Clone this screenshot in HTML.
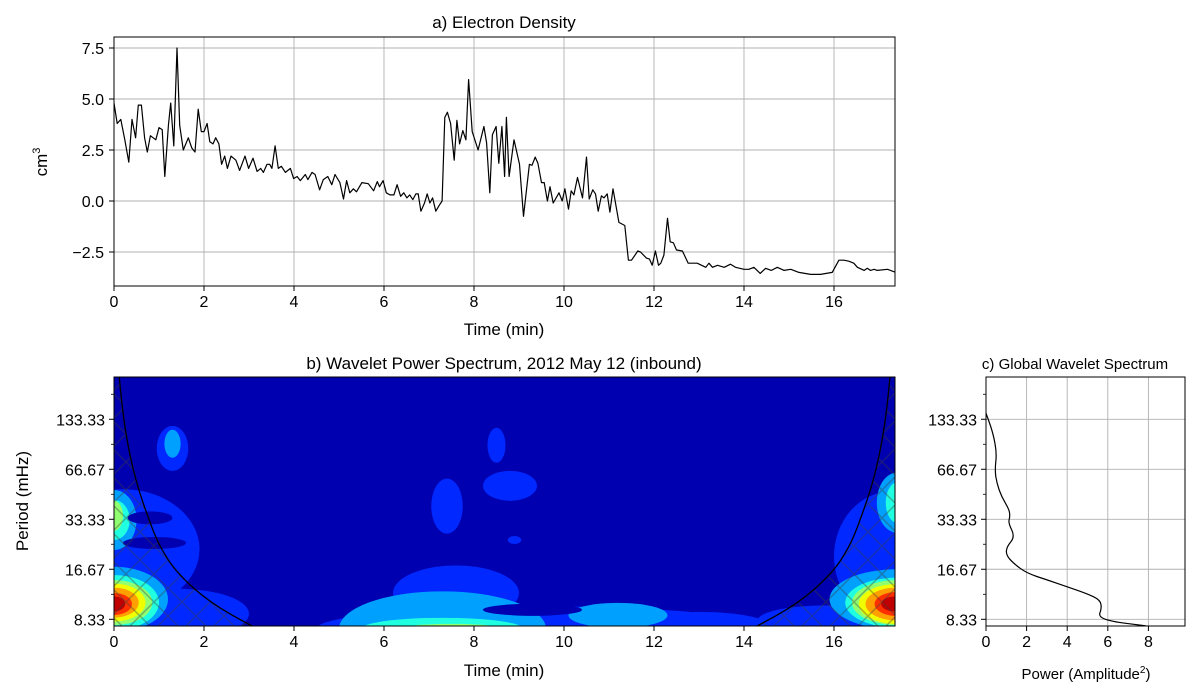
<!DOCTYPE html>
<html><head><meta charset="utf-8"><style>
html,body{margin:0;padding:0;background:#fff;}
svg{display:block;font-family:"Liberation Sans","DejaVu Sans",sans-serif;}
</style></head><body>
<svg id="fig" width="1200" height="700" viewBox="0 0 1200 700" xmlns="http://www.w3.org/2000/svg">
<defs>
<clipPath id="clipA"><rect x="114" y="37" width="781" height="249"/></clipPath>
<clipPath id="clipB"><rect x="114" y="377" width="781" height="249"/></clipPath>
<clipPath id="clipC"><rect x="986" y="377" width="199" height="249"/></clipPath>
<pattern id="hatch" width="28" height="28" patternUnits="userSpaceOnUse">
<path d="M0,0 L28,28 M28,0 L0,28" stroke="rgba(60,60,60,0.4)" stroke-width="1.5" fill="none"/>
</pattern>
</defs>
<g id="panelA"></g>
<g id="panelB"></g>
<g id="panelC"></g>
</svg>
<script>
// ---------- Panel a data ----------
const densT = [0,.07,.15,.24,.33,.40,.48,.54,.61,.68,.74,.81,.93,1.0,1.07,1.13,1.21,1.26,1.33,1.40,1.46,1.54,1.65,1.73,1.80,1.87,1.94,2.0,2.07,2.13,2.20,2.26,2.33,2.39,2.46,2.52,2.60,2.71,2.79,2.91,2.99,3.09,3.18,3.26,3.32,3.40,3.46,3.51,3.58,3.65,3.72,3.81,3.92,3.99,4.07,4.14,4.25,4.31,4.40,4.47,4.57,4.65,4.75,4.84,4.91,5.02,5.10,5.17,5.24,5.32,5.39,5.51,5.65,5.77,5.85,5.90,5.98,6.05,6.13,6.22,6.29,6.37,6.44,6.51,6.57,6.64,6.71,6.76,6.82,6.90,6.96,7.02,7.08,7.15,7.23,7.29,7.35,7.41,7.48,7.56,7.62,7.68,7.75,7.82,7.88,7.96,8.09,8.22,8.28,8.35,8.41,8.49,8.55,8.62,8.68,8.72,8.78,8.89,9.01,9.10,9.23,9.29,9.36,9.42,9.50,9.56,9.63,9.69,9.76,9.89,9.96,10.02,10.10,10.16,10.22,10.30,10.41,10.50,10.56,10.64,10.70,10.76,10.83,10.89,10.96,11.02,11.09,11.22,11.35,11.43,11.50,11.64,11.70,11.83,11.90,11.96,12.03,12.10,12.15,12.22,12.30,12.36,12.43,12.50,12.63,12.76,12.96,13.15,13.22,13.30,13.41,13.56,13.70,13.81,14.0,14.11,14.22,14.36,14.48,14.61,14.74,14.89,15.04,15.22,15.48,15.70,15.96,16.11,16.22,16.33,16.44,16.52,16.67,16.74,16.81,16.89,16.96,17.19,17.37];
const densV = [4.8,3.8,4.0,3.0,1.9,4.0,3.1,4.7,4.7,3.1,2.4,3.2,3.0,3.6,3.5,1.2,3.7,4.8,2.7,7.5,3.7,2.5,3.1,2.6,2.4,4.5,3.4,3.4,3.8,2.9,2.8,3.1,2.8,1.8,2.2,1.6,2.2,2.0,1.5,2.2,1.6,2.1,1.45,1.6,1.4,1.8,1.8,1.6,2.7,1.6,1.7,1.4,1.6,1.1,1.2,1.0,1.3,1.05,1.4,1.3,0.55,1.05,1.2,0.8,1.3,0.9,0.1,1.0,0.4,0.6,0.45,0.9,0.85,0.5,0.95,0.7,1.0,0.4,0.3,0.3,0.8,0.23,0.4,0.15,0.3,0.07,0.35,0.35,-0.5,-0.1,0.35,-0.1,0.15,-0.5,-0.2,0,4.1,4.35,3.8,2.0,3.95,2.8,3.45,3.0,5.95,3.4,2.5,3.65,2.85,0.4,3.25,3.65,1.85,3.65,1.2,4.1,1.2,3.0,1.8,-0.75,1.8,1.75,2.15,1.85,0.9,0.9,0,0.7,-0.1,0.4,0,0.6,-0.4,0.5,0.3,1.15,0.15,2.15,0.1,0.55,0.35,-0.5,0.25,0.15,0.35,-0.55,0.6,-1.05,-1.2,-2.9,-2.9,-2.45,-2.5,-2.8,-2.85,-3.15,-2.45,-3.15,-3.05,-2.65,-0.85,-2.0,-2.05,-2.4,-2.45,-3.05,-3.05,-3.25,-3.05,-3.25,-3.15,-3.25,-3.1,-3.25,-3.35,-3.35,-3.25,-3.55,-3.3,-3.4,-3.25,-3.4,-3.35,-3.5,-3.6,-3.6,-3.5,-2.9,-2.9,-2.95,-3.05,-3.25,-3.4,-3.3,-3.4,-3.35,-3.4,-3.35,-3.5];
const timeTicks = [0,2,4,6,8,10,12,14,16];
const densTicks = [7.5,5.0,2.5,0.0,-2.5];
const densTickLabels = ["7.5","5.0","2.5","0.0","\u22122.5"];

// ---------- Panel b data (contour blobs) ----------
const blobT = [0.2,1.4,1.3,1.3,0,0,0,0,0,0,0,0,0,0,0.8,0.9, 17.3,15.8,17.4,17.4,17.4,17.4,17.4,17.4,17.4,17.4,17.35, 7.6,9.5,13.0,7.4,8.8,8.5,8.9,7.3,11.2,9.3,7.3,7.5];
const blobP = [22,9,89,95,11,33,10.5,33,10.5,35,10.5,10.5,10.3,10.3,34,24, 20,8.2,11,42,10.5,42,10.5,10.3,10.3,10.3,10.3, 12,7.3,7.5,40,53,93,25,7.3,8.8,9.5,7.3,7.3];
const blobRt = [1.7,1.6,0.35,0.18,1.2,0.5,1.0,0.35,0.85,0.2,0.7,0.55,0.4,0.25,0.5,0.7, 1.3,1.5,1.5,0.45,1.15,0.25,1.0,0.85,0.7,0.5,0.3, 1.4,5.0,1.6,0.35,0.6,0.2,0.15,2.3,1.1,1.1,1.8,1.1];
const blobRp = [1.2,0.5,0.45,0.28,0.65,0.6,0.55,0.4,0.45,0.3,0.38,0.3,0.22,0.15,0.13,0.12, 1.3,0.3,0.6,0.6,0.5,0.4,0.45,0.4,0.33,0.24,0.15, 0.55,0.45,0.3,0.55,0.3,0.35,0.08,0.75,0.25,0.12,0.22,0.1];
const blobLevel = [1,1,1,2,2,2,3,3,4,4,5,6,7,8,0,0, 1,1,2,2,3,3,4,5,6,7,8, 1,1,1,1,1,1,1,2,2,0,3,4];
const coiDist = [0.0,0.11,0.24,0.47,0.80,1.02,1.40,2.13,3.09,3.6];
const coiPeriod = [600,240,115,57.6,31.7,22.7,15.8,10.5,7.5,6.5];
const periodTicks = [133.33,66.67,33.33,16.67,8.33];
const periodTickLabels = ["133.33","66.67","33.33","16.67","8.33"];

// ---------- Panel c data ----------
const gwsPeriod = [145,109,83,66,55,45.5,38,34.6,31.6,26.2,22.8,20.3,18.1,15.8,14.4,13.1,11.9,10.9,9.7,8.6,8.05,7.6];
const gwsPower = [0,0.36,0.53,0.44,0.53,0.77,1.15,1.18,1.1,1.43,1.02,0.99,1.35,2.0,3.0,3.97,4.96,5.62,5.7,5.53,6.27,7.9];
const powerTicks = [0,2,4,6,8];

// ---------- helpers ----------
const NS = "http://www.w3.org/2000/svg";
const T_END = 17.36;
function mk(tag, attrs, parent, text){
  const e = document.createElementNS(NS, tag);
  for (const k in attrs) e.setAttribute(k, attrs[k]);
  if (text !== undefined) e.textContent = text;
  parent.appendChild(e);
  return e;
}
const xA = t => 114 + t*45;
const yA = v => 201 - v*20.4;
const xB = t => 114 + t*45;
const yP = p => 619.3 - Math.log2(p/8.33)*50;
const xC = w => 986 + w*20.3;
const jet = ["#0000b0","#0028ff","#00a0ff","#20ffe0","#90ff70","#f0ff00","#ffa000","#ff3000","#c00000"];

// ---------- Panel a ----------
const A = document.getElementById('panelA');
timeTicks.forEach(t=>{
  const g = mk('line',{x1:xA(t),x2:xA(t),y1:37,y2:286,stroke:'#b0b0b0','stroke-width':0.9},A);
  
  
  const tk = mk('line',{x1:xA(t),x2:xA(t),y1:286,y2:291,stroke:'#000','stroke-width':1},A);
  
  
  const lb = mk('text',{x:xA(t),y:307,'text-anchor':'middle','font-size':16},A,String(t));
  
  
});
densTicks.forEach((v,i)=>{
  const g = mk('line',{x1:114,x2:895,y1:yA(v),y2:yA(v),stroke:'#b0b0b0','stroke-width':0.9},A);
  
  
  const tk = mk('line',{x1:109,x2:114,y1:yA(v),y2:yA(v),stroke:'#000','stroke-width':1},A);
  
  
  const lb = mk('text',{x:104,y:yA(v)+6,'text-anchor':'end','font-size':16},A,densTickLabels[i]);
  
  
});
let dA = densT.map((t,i)=>(i?'L':'M')+xA(t).toFixed(1)+','+yA(densV[i]).toFixed(1)).join(' ');
const lineA = mk('path',{d:dA,fill:'none',stroke:'#000','stroke-width':1.2,'clip-path':'url(#clipA)','stroke-linejoin':'round'},A);


const boxA = mk('rect',{x:114,y:37,width:781,height:249,fill:'none',stroke:'#000','stroke-width':1},A);


const tA = mk('text',{x:504,y:28,'text-anchor':'middle','font-size':17},A,'a) Electron Density');


const xlA = mk('text',{x:504,y:335,'text-anchor':'middle','font-size':17},A,'Time (min)');


const ylA = mk('text',{x:0,y:0,'text-anchor':'middle','font-size':17,transform:'translate(47,162) rotate(-90)'},A);


ylA.textContent='cm';
mk('tspan',{'font-size':11,dy:-7},ylA,'3');

// ---------- Panel b ----------
const B = document.getElementById('panelB');
const gB = mk('g',{'clip-path':'url(#clipB)'},B);
const bg = mk('rect',{x:114,y:377,width:781,height:249,fill:jet[0]},gB);


// draw blobs by level; level-0 holes last
const order = blobLevel.map((l,i)=>i).sort((a,b)=>{
  const la = blobLevel[a]===0?99:blobLevel[a], lb = blobLevel[b]===0?99:blobLevel[b];
  return la-lb || a-b;
});
order.forEach(i=>{
  const cx = xB(blobT[i]);
  const cy = yP(blobP[i]);
  const rx = blobRt[i]*45;
  const ry = blobRp[i]*50;
  const e = mk('ellipse',{cx:cx,cy:cy,rx:rx,ry:ry,fill:jet[blobLevel[i]]},gB);
  
  
});
// cone of influence
const leftPts = coiDist.map((d,i)=>[xB(d), yP(coiPeriod[i])]);
const rightPts = coiDist.map((d,i)=>[xB(T_END-d), yP(coiPeriod[i])]);
const hl = mk('path',{d:'M114,370 '+leftPts.map(p=>'L'+p[0].toFixed(1)+','+p[1].toFixed(1)).join(' ')+' L114,640 Z',fill:'url(#hatch)'},gB);


const hr = mk('path',{d:'M895,370 '+rightPts.map(p=>'L'+p[0].toFixed(1)+','+p[1].toFixed(1)).join(' ')+' L895,640 Z',fill:'url(#hatch)'},gB);


function smooth(pts){
  let d='M'+pts[0][0]+','+pts[0][1];
  for(let i=1;i<pts.length;i++){
    const p0=pts[i-1],p1=pts[i];
    const mx=(p0[0]+p1[0])/2,my=(p0[1]+p1[1])/2;
    d+=' Q'+p0[0].toFixed(1)+','+p0[1].toFixed(1)+' '+mx.toFixed(1)+','+my.toFixed(1);
  }
  const l=pts[pts.length-1];
  return d+' L'+l[0]+','+l[1];
}
const cl = mk('path',{d:smooth(leftPts),fill:'none',stroke:'#000','stroke-width':1.3},gB);


const cr = mk('path',{d:smooth(rightPts),fill:'none',stroke:'#000','stroke-width':1.3},gB);


timeTicks.forEach(t=>{
  const tk = mk('line',{x1:xB(t),x2:xB(t),y1:626,y2:631,stroke:'#000','stroke-width':1},B);
  
  
  const lb = mk('text',{x:xB(t),y:647,'text-anchor':'middle','font-size':16},B,String(t));
  
  
});
function periodAxis(G, xLeft, prefix){
  periodTicks.forEach((p,i)=>{
    const tk = mk('line',{x1:xLeft-5,x2:xLeft,y1:yP(p),y2:yP(p),stroke:'#000','stroke-width':1},G);
    
    
    const mn = mk('line',{x1:xLeft-3,x2:xLeft,y1:yP(p)-25,y2:yP(p)-25,stroke:'#000','stroke-width':0.8},G);
    
    
    const lb = mk('text',{x:xLeft-9,y:yP(p)+6,'text-anchor':'end','font-size':16},G,periodTickLabels[i]);
    
    
  });
}
periodAxis(B,114,'wavelet');
const boxB = mk('rect',{x:114,y:377,width:781,height:249,fill:'none',stroke:'#000','stroke-width':1},B);


const tB = mk('text',{x:504,y:369,'text-anchor':'middle','font-size':17},B,'b) Wavelet Power Spectrum, 2012 May 12 (inbound)');


const xlB = mk('text',{x:504,y:676,'text-anchor':'middle','font-size':17},B,'Time (min)');


const ylB = mk('text',{x:0,y:0,'text-anchor':'middle','font-size':17,transform:'translate(28,501) rotate(-90)'},B,'Period (mHz)');



// ---------- Panel c ----------
const C = document.getElementById('panelC');
powerTicks.forEach(w=>{
  const g = mk('line',{x1:xC(w),x2:xC(w),y1:377,y2:626,stroke:'#b0b0b0','stroke-width':0.9},C);
  
  
  const tk = mk('line',{x1:xC(w),x2:xC(w),y1:626,y2:631,stroke:'#000','stroke-width':1},C);
  
  
  const lb = mk('text',{x:xC(w),y:647,'text-anchor':'middle','font-size':16},C,String(w));
  
  
});
periodTicks.forEach(p=>{
  const g = mk('line',{x1:986,x2:1185,y1:yP(p),y2:yP(p),stroke:'#b0b0b0','stroke-width':0.9},C);
  
  
});
periodAxis(C,986,'global');
const gwsPts = gwsPeriod.map((p,i)=>[xC(gwsPower[i]), yP(p)]);
const lineC = mk('path',{d:smooth(gwsPts),fill:'none',stroke:'#000','stroke-width':1.2,'clip-path':'url(#clipC)'},C);


const boxC = mk('rect',{x:986,y:377,width:199,height:249,fill:'none',stroke:'#000','stroke-width':1},C);


const tC = mk('text',{x:1075,y:369,'text-anchor':'middle','font-size':15},C,'c) Global Wavelet Spectrum');


const xlC = mk('text',{x:1086,y:679,'text-anchor':'middle','font-size':15},C);


xlC.textContent='Power (Amplitude';
mk('tspan',{'font-size':10,dy:-6},xlC,'2');
mk('tspan',{dy:6},xlC,')');
</script>
</body></html>
